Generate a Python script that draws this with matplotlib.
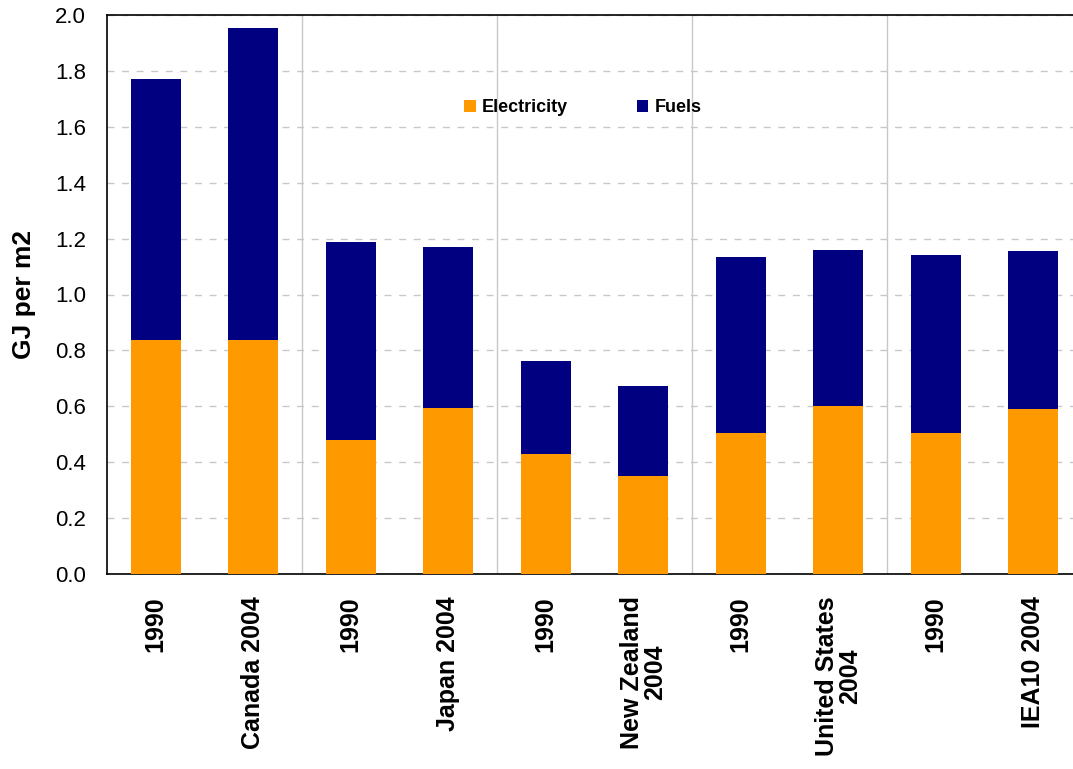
import matplotlib

matplotlib.use("Agg")

import matplotlib.pyplot as plt
import numpy as np

plt.rcParams["font.family"] = ["Liberation Sans", "DejaVu Sans"]

# categories and values (GJ per m2)
labels = ["1990", "Canada 2004", "1990", "Japan 2004", "1990", "New Zealand\n2004",
          "1990", "United States\n2004", "1990", "IEA10 2004"]
electricity = [0.837, 0.837, 0.479, 0.594, 0.429, 0.351, 0.504, 0.601, 0.504, 0.590]
total = [1.771, 1.953, 1.188, 1.170, 0.762, 0.673, 1.134, 1.159, 1.141, 1.156]
fuels = [t - e for t, e in zip(total, electricity)]
y_ticks = [0.0, 0.2, 0.4, 0.6, 0.8, 1.0, 1.2, 1.4, 1.6, 1.8, 2.0]

orange = "#FF9900"
navy = "#000080"

fig = plt.figure(figsize=(10.73, 7.69), dpi=100)
ax = fig.add_axes([107 / 1073, 1 - 574 / 769, 975 / 1073, 559 / 769])

x = np.arange(len(labels))
ax.bar(x, electricity, width=0.51, color=orange, label="Electricity", zorder=3)
ax.bar(x, fuels, width=0.51, bottom=electricity, color=navy, label="Fuels", zorder=3)

ax.set_xlim(-0.5, len(labels) - 0.5)
ax.set_ylim(0, 2.0)
ax.set_yticks(y_ticks)
ax.set_yticklabels([f"{v:.1f}" for v in y_ticks], fontsize=16)
ax.tick_params(axis="y", length=0, pad=15)

ax.set_xticks(x)
ax.set_xticklabels(labels, rotation=90, fontsize=18, fontweight="bold",
                   va="top", ha="center", multialignment="center", linespacing=0.95)
ax.tick_params(axis="x", length=0, pad=16)

# separators between country pairs
ax.set_xticks(np.arange(1.5, len(labels) - 1, 2), minor=True)
ax.tick_params(axis="x", which="minor", length=0)
ax.grid(True, axis="x", which="minor", color="#c8c8c8", linewidth=1, zorder=0)
ax.grid(True, axis="y", which="major", color="#c8c8c8", linewidth=1,
        linestyle=(0, (5, 5.5)), zorder=0)
ax.grid(False, axis="x", which="major")

for side in ["left", "bottom", "top"]:
    ax.spines[side].set_color("black")
    ax.spines[side].set_linewidth(1.2)
ax.spines["right"].set_visible(False)

ax.set_ylabel("GJ per m2", fontsize=19, fontweight="bold", labelpad=14)

ax.legend(loc="center", bbox_to_anchor=(0.488, 0.834), ncol=2, frameon=False,
          prop={"size": 13, "weight": "bold"}, handlelength=0.65, handleheight=0.65,
          handletextpad=0.35, columnspacing=3.8)

fig.savefig("out.png", dpi=100)
plt.close(fig)
